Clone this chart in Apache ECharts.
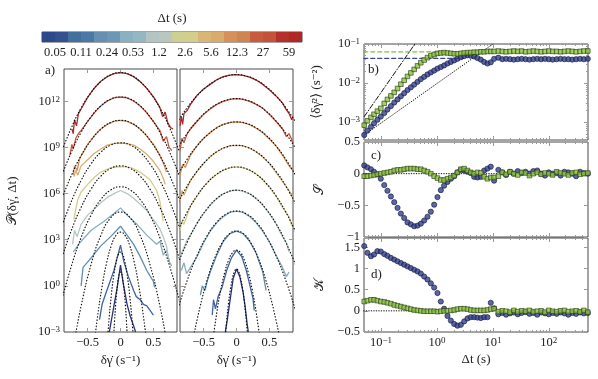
<!DOCTYPE html>
<html>
<head>
<meta charset="utf-8">
<script src="https://cdn.jsdelivr.net/npm/echarts@6/dist/echarts.min.js"></script>
<style>
  html, body { margin: 0; padding: 0; background: #fff; }
  #chart { width: 598px; height: 379px; }
</style>
</head>
<body>
<div id="chart"></div>
<script>
// ---- colour bar ----
const dtTickLabels = ["0.05", "0.11", "0.24", "0.53", "1.2", "2.6", "5.6", "12.3", "27", "59"];
const barColors = ["#2c4a8b", "#34508e", "#436f9f", "#4a78a7", "#6590b1", "#6c98b6", "#8ab1c1", "#93b7c3",
  "#b3c5c3", "#b9c7bf", "#cfcf90", "#d5cd8a", "#d9b673", "#d8ac6a", "#d6905a", "#d08450",
  "#c85a3d", "#c4523a", "#b5302b", "#b02826"];
const curveColors = ["#262f7e", "#3f62a0", "#5f8db1", "#86aec0", "#b4c6c4",
  "#d3cd88", "#d9ad6b", "#d8874f", "#c9533a", "#b1262a"];

// ---- panel a : [dgamma, log10 P], one list per dt (0.05 s ... 59 s) ----
const rawLeft = [
  [[-0.17,-3],[-0.1,-1.3],[-0.05,-0.1],[0,1.35],[0.04,0.2],[0.1,-1.2],[0.15,-2.0],[0.2,-2.6],[0.23,-3]],
  [[-0.32,-2.2],[-0.28,-1.2],[-0.2,-0.2],[-0.1,1.0],[0,2.65],[0.05,1.6],[0.12,0.6],[0.2,-0.3],[0.24,-0.7],[0.3,-0.9],[0.35,-1.2],[0.4,-1.3],[0.45,-1.6],[0.5,-1.9]],
  [[-0.6,0.0],[-0.57,1.2],[-0.45,1.8],[-0.3,2.6],[-0.15,3.2],[0,3.88],[0.1,3.3],[0.2,2.7],[0.3,1.9],[0.4,1.0],[0.47,0.5],[0.5,0.3],[0.52,-0.1]],
  [[-0.72,2.2],[-0.62,2.8],[-0.45,3.6],[-0.25,4.2],[-0.1,4.7],[0,5.07],[0.1,4.6],[0.25,4.0],[0.4,3.3],[0.55,2.7],[0.6,2.9],[0.65,2.0],[0.7,2.3],[0.75,1.5],[0.78,1.3]],
  [[-0.73,2.7],[-0.7,3.6],[-0.66,3.2],[-0.6,4.0],[-0.5,4.6],[-0.4,5.0],[-0.3,5.4],[-0.2,5.75],[-0.1,6.0],[0,6.2],[0.1,6.0],[0.2,5.7],[0.3,5.3],[0.4,4.9],[0.5,4.3],[0.6,3.7],[0.65,3.2],[0.7,2.6],[0.73,1.8]],
  [[-0.71,4.3],[-0.68,5.0],[-0.65,5.6],[-0.6,6.1],[-0.5,6.6],[-0.4,7.05],[-0.3,7.4],[-0.15,7.68],[0,7.75],[0.15,7.7],[0.3,7.4],[0.45,6.9],[0.55,6.2],[0.6,5.5],[0.62,5.0],[0.65,4.2]],
  [[-0.71,7.1],[-0.68,7.5],[-0.65,7.2],[-0.6,7.8],[-0.5,8.2],[-0.4,8.6],[-0.3,8.9],[-0.2,9.15],[-0.1,9.25],[0,9.29],[0.1,9.25],[0.2,9.15],[0.3,8.9],[0.4,8.55],[0.5,8.1],[0.6,7.5],[0.65,7.0],[0.68,6.6]],
  [[-0.72,7.2],[-0.7,7.8],[-0.66,7.5],[-0.62,8.3],[-0.55,8.8],[-0.5,9.2],[-0.4,9.75],[-0.3,10.2],[-0.2,10.5],[-0.1,10.7],[0,10.76],[0.1,10.7],[0.2,10.5],[0.3,10.2],[0.4,9.75],[0.5,9.2],[0.6,8.5],[0.66,7.9],[0.7,7.4]],
  [[-0.77,8.5],[-0.74,9.2],[-0.72,8.9],[-0.68,9.6],[-0.64,9.9],[-0.6,10.1],[-0.5,10.7],[-0.4,11.25],[-0.3,11.7],[-0.2,12.02],[-0.1,12.22],[0,12.28],[0.1,12.22],[0.2,12.02],[0.3,11.7],[0.4,11.25],[0.5,10.7],[0.6,10.1],[0.65,9.4],[0.7,9.7],[0.74,9.0],[0.78,8.8]],
  [[-0.74,10.2],[-0.72,9.9],[-0.7,10.8],[-0.67,10.4],[-0.64,11.2],[-0.6,11.5],[-0.5,12.25],[-0.4,12.85],[-0.3,13.3],[-0.2,13.6],[-0.1,13.8],[0,13.86],[0.1,13.8],[0.2,13.6],[0.3,13.28],[0.4,12.84],[0.5,12.3],[0.6,11.6],[0.64,11.0],[0.68,11.3],[0.72,10.6],[0.76,10.3],[0.8,10.2]]
];
const fitLeft = [
  [[-0.12,-4.72],[-0.105,-3.4],[-0.09,-2.26],[-0.075,-1.29],[-0.06,-0.5],[-0.045,0.11],[-0.03,0.55],[-0.015,0.81],[0,0.9],[0.015,0.81],[0.03,0.55],[0.045,0.11],[0.06,-0.5],[0.075,-1.29],[0.09,-2.26],[0.105,-3.4],[0.12,-4.72]],
  [[-0.22,-4.77],[-0.18,-2.47],[-0.14,-0.62],[-0.1,0.76],[-0.06,1.68],[-0.03,2.07],[0,2.2],[0.03,2.07],[0.06,1.68],[0.1,0.76],[0.14,-0.62],[0.18,-2.47],[0.22,-4.77]],
  [[-0.42,-4.44],[-0.35,-2.01],[-0.28,-0.03],[-0.21,1.52],[-0.14,2.62],[-0.07,3.28],[0,3.5],[0.07,3.28],[0.14,2.62],[0.21,1.52],[0.28,-0.03],[0.35,-2.01],[0.42,-4.44]],
  [[-0.72,-4.01],[-0.6,-1.32],[-0.45,1.36],[-0.3,3.27],[-0.15,4.42],[0,4.8],[0.15,4.42],[0.3,3.27],[0.45,1.36],[0.6,-1.32],[0.72,-4.01]],
  [[-0.9,-1.01],[-0.75,1.26],[-0.6,3.13],[-0.45,4.58],[-0.3,5.61],[-0.15,6.23],[0,6.44],[0.15,6.23],[0.3,5.61],[0.45,4.58],[0.6,3.13],[0.75,1.26],[0.9,-1.01]],
  [[-0.9,1.72],[-0.75,3.58],[-0.6,5.1],[-0.45,6.28],[-0.3,7.13],[-0.15,7.63],[0,7.8],[0.15,7.63],[0.3,7.13],[0.45,6.28],[0.6,5.1],[0.75,3.58],[0.9,1.72]],
  [[-0.9,3.79],[-0.75,5.47],[-0.6,6.85],[-0.45,7.92],[-0.3,8.69],[-0.15,9.15],[0,9.3],[0.15,9.15],[0.3,8.69],[0.45,7.92],[0.6,6.85],[0.75,5.47],[0.9,3.79]],
  [[-0.9,5.58],[-0.75,7.16],[-0.6,8.46],[-0.45,9.46],[-0.3,10.18],[-0.15,10.62],[0,10.76],[0.15,10.62],[0.3,10.18],[0.45,9.46],[0.6,8.46],[0.75,7.16],[0.9,5.58]],
  [[-0.9,7.1],[-0.75,8.68],[-0.6,9.98],[-0.45,10.98],[-0.3,11.7],[-0.15,12.14],[0,12.28],[0.15,12.14],[0.3,11.7],[0.45,10.98],[0.6,9.98],[0.75,8.68],[0.9,7.1]],
  [[-0.9,8.68],[-0.75,10.26],[-0.6,11.56],[-0.45,12.56],[-0.3,13.28],[-0.15,13.72],[0,13.86],[0.15,13.72],[0.3,13.28],[0.45,12.56],[0.6,11.56],[0.75,10.26],[0.9,8.68]]
];
const rawRight = [
  [[-0.17,-3],[-0.14,-2.2],[-0.1,-1.0],[-0.05,0.5],[0,1.09],[0.05,0.6],[0.1,-0.4],[0.13,-1.3],[0.16,-2.4],[0.18,-3]],
  [[-0.37,-1.9],[-0.35,-0.9],[-0.32,-1.5],[-0.28,-0.7],[-0.22,-0.1],[-0.15,1.0],[-0.08,1.8],[0,2.32],[0.08,1.9],[0.15,1.0],[0.2,0.1],[0.25,-0.8],[0.27,-1.6]],
  [[-0.55,-0.6],[-0.52,0.0],[-0.48,-0.3],[-0.44,0.4],[-0.4,0.9],[-0.3,2.0],[-0.2,2.9],[-0.1,3.4],[0,3.56],[0.1,3.4],[0.2,2.9],[0.3,2.1],[0.4,0.9],[0.45,-0.3]],
  [[-0.84,1.0],[-0.8,1.5],[-0.76,0.8],[-0.7,1.2],[-0.6,1.9],[-0.5,2.8],[-0.4,3.55],[-0.3,4.1],[-0.2,4.5],[-0.1,4.78],[0,4.86],[0.1,4.78],[0.2,4.5],[0.3,4.1],[0.4,3.55],[0.5,2.85],[0.6,2.0],[0.7,1.2],[0.76,0.6],[0.8,0.9]],
  [[-0.86,1.9],[-0.8,2.5],[-0.75,3.0],[-0.7,3.3],[-0.6,4.1],[-0.5,4.7],[-0.4,5.25],[-0.3,5.68],[-0.2,5.98],[-0.1,6.16],[0,6.22],[0.1,6.16],[0.2,5.98],[0.3,5.66],[0.4,5.25],[0.5,4.7],[0.6,4.05],[0.7,3.2],[0.76,2.8],[0.8,2.2]],
  [[-0.86,3.6],[-0.83,4.2],[-0.8,4.0],[-0.7,5.2],[-0.6,5.85],[-0.5,6.45],[-0.4,6.9],[-0.3,7.25],[-0.2,7.52],[-0.1,7.68],[0,7.73],[0.1,7.68],[0.2,7.52],[0.3,7.26],[0.4,6.9],[0.5,6.4],[0.6,5.85],[0.7,5.1],[0.8,4.5],[0.84,3.9],[0.86,4.2]],
  [[-0.86,5.5],[-0.83,6.2],[-0.8,5.9],[-0.7,6.85],[-0.6,7.45],[-0.5,7.95],[-0.4,8.4],[-0.3,8.72],[-0.2,8.95],[-0.1,9.1],[0,9.14],[0.1,9.1],[0.2,8.95],[0.3,8.7],[0.4,8.38],[0.5,7.95],[0.6,7.4],[0.7,6.8],[0.8,6.2],[0.86,5.7]],
  [[-0.86,7.2],[-0.82,7.9],[-0.78,7.7],[-0.7,8.5],[-0.6,9.1],[-0.5,9.6],[-0.4,9.95],[-0.3,10.3],[-0.2,10.5],[-0.1,10.62],[0,10.66],[0.1,10.62],[0.2,10.48],[0.3,10.25],[0.4,9.95],[0.5,9.55],[0.6,9.1],[0.7,8.5],[0.8,7.8],[0.86,7.5]],
  [[-0.86,8.8],[-0.83,9.6],[-0.8,9.3],[-0.75,9.9],[-0.7,10.2],[-0.6,10.7],[-0.5,11.15],[-0.4,11.5],[-0.3,11.8],[-0.2,12.0],[-0.1,12.13],[0,12.17],[0.1,12.12],[0.2,12.0],[0.3,11.8],[0.4,11.55],[0.5,11.15],[0.6,10.7],[0.7,10.2],[0.76,9.7],[0.8,9.9],[0.86,9.3]],
  [[-0.86,10.4],[-0.84,11.0],[-0.82,10.5],[-0.8,11.2],[-0.75,11.4],[-0.7,11.8],[-0.6,12.4],[-0.5,12.8],[-0.4,13.1],[-0.3,13.4],[-0.2,13.6],[-0.1,13.7],[0,13.73],[0.1,13.68],[0.2,13.57],[0.3,13.38],[0.4,13.1],[0.5,12.75],[0.6,12.35],[0.7,11.9],[0.75,11.5],[0.8,11.2],[0.84,10.8],[0.86,11.0]]
];
const fitRight = [
  [[-0.18,-3.77],[-0.15,-2.29],[-0.12,-1.07],[-0.09,-0.13],[-0.06,0.55],[-0.03,0.95],[0,1.09],[0.03,0.95],[0.06,0.55],[0.09,-0.13],[0.12,-1.07],[0.15,-2.29],[0.18,-3.77]],
  [[-0.38,-4.18],[-0.3,-1.73],[-0.24,-0.27],[-0.18,0.86],[-0.12,1.67],[-0.06,2.16],[0,2.32],[0.06,2.16],[0.12,1.67],[0.18,0.86],[0.24,-0.27],[0.3,-1.73],[0.38,-4.18]],
  [[-0.66,-3.41],[-0.55,-1.28],[-0.44,0.46],[-0.33,1.82],[-0.22,2.79],[-0.11,3.37],[0,3.56],[0.11,3.37],[0.22,2.79],[0.33,1.82],[0.44,0.46],[0.55,-1.28],[0.66,-3.41]],
  [[-0.9,-1.62],[-0.75,0.36],[-0.6,1.98],[-0.45,3.24],[-0.3,4.14],[-0.15,4.68],[0,4.86],[0.15,4.68],[0.3,4.14],[0.45,3.24],[0.6,1.98],[0.75,0.36],[0.9,-1.62]],
  [[-0.9,1.36],[-0.75,2.84],[-0.6,4.06],[-0.45,5.0],[-0.3,5.68],[-0.15,6.08],[0,6.22],[0.15,6.08],[0.3,5.68],[0.45,5.0],[0.6,4.06],[0.75,2.84],[0.9,1.36]],
  [[-0.9,3.52],[-0.75,4.8],[-0.6,5.86],[-0.45,6.68],[-0.3,7.26],[-0.15,7.61],[0,7.73],[0.15,7.61],[0.3,7.26],[0.45,6.68],[0.6,5.86],[0.75,4.8],[0.9,3.52]],
  [[-0.9,5.33],[-0.75,6.5],[-0.6,7.45],[-0.45,8.19],[-0.3,8.72],[-0.15,9.03],[0,9.14],[0.15,9.03],[0.3,8.72],[0.45,8.19],[0.6,7.45],[0.75,6.5],[0.9,5.33]],
  [[-0.9,7.18],[-0.75,8.24],[-0.6,9.11],[-0.45,9.79],[-0.3,10.27],[-0.15,10.56],[0,10.66],[0.15,10.56],[0.3,10.27],[0.45,9.79],[0.6,9.11],[0.75,8.24],[0.9,7.18]],
  [[-0.9,8.93],[-0.75,9.92],[-0.6,10.73],[-0.45,11.36],[-0.3,11.81],[-0.15,12.08],[0,12.17],[0.15,12.08],[0.3,11.81],[0.45,11.36],[0.6,10.73],[0.75,9.92],[0.9,8.93]],
  [[-0.9,10.65],[-0.75,11.59],[-0.6,12.36],[-0.45,12.96],[-0.3,13.39],[-0.15,13.64],[0,13.73],[0.15,13.64],[0.3,13.39],[0.45,12.96],[0.6,12.36],[0.75,11.59],[0.9,10.65]]
];

// ---- panels b, c, d : lag times (s) and moments ----
const dt = [0.050,0.057,0.066,0.075,0.086,0.099,0.114,0.130,0.150,0.172,0.197,0.226,0.259,0.297,0.341,0.391,
  0.448,0.514,0.590,0.676,0.776,0.890,1.02,1.17,1.34,1.54,1.77,2.03,2.32,2.67,3.06,3.51,4.02,4.61,5.29,6.07,
  6.96,7.98,9.15,10.5,
  12.5,14.7,17.2,20.2,23.7,27.8,32.6,38.3,45,52.8,62,72.7,85.4,100,117,138,162,190,223,262,307,361,423,497];
// log10 <dgamma^2>
const msdBlue = [-3.33,-3.22,-3.12,-3.03,-2.94,-2.86,-2.77,-2.68,-2.59,-2.50,-2.42,-2.34,-2.26,-2.18,-2.11,-2.04,
  -1.97,-1.90,-1.84,-1.78,-1.73,-1.68,-1.63,-1.59,-1.55,-1.50,-1.46,-1.42,-1.38,-1.34,-1.31,-1.29,-1.30,-1.32,-1.36,-1.40,
  -1.46,-1.50,-1.47,-1.38,
  -1.35,-1.39,-1.38,-1.39,-1.40,-1.39,-1.38,-1.39,-1.40,-1.39,-1.38,-1.39,-1.38,-1.39,-1.40,-1.39,-1.38,-1.39,-1.39,-1.40,-1.39,-1.38,-1.39,-1.38];
const msdGreen = [-3.08,-2.97,-2.88,-2.80,-2.72,-2.65,-2.52,-2.42,-2.33,-2.24,-2.14,-2.03,-1.93,-1.83,-1.74,-1.65,
  -1.56,-1.48,-1.41,-1.35,-1.30,-1.27,-1.24,-1.23,-1.22,-1.23,-1.24,-1.25,-1.25,-1.24,-1.23,-1.22,-1.22,-1.21,-1.21,-1.20,
  -1.20,-1.19,-1.19,-1.19,
  -1.18,-1.19,-1.20,-1.19,-1.18,-1.19,-1.18,-1.20,-1.19,-1.18,-1.19,-1.20,-1.19,-1.18,-1.19,-1.19,-1.20,-1.19,-1.18,-1.19,-1.20,-1.19,-1.18,-1.18];
const skewBlue = [0.13,0.10,0.07,0.03,-0.01,-0.08,-0.18,-0.27,-0.36,-0.45,-0.54,-0.63,-0.70,-0.77,-0.80,-0.83,
  -0.82,-0.79,-0.74,-0.68,-0.60,-0.49,-0.37,-0.26,-0.19,-0.13,-0.08,-0.04,0.02,0.06,0.05,0.03,0.01,-0.05,-0.06,-0.05,
  0.05,0.08,0.11,-0.11,
  0.06,0.02,-0.02,0.03,0.00,0.04,0.01,0.03,0.00,0.04,0.05,0.00,-0.03,0.02,0.00,0.01,-0.03,0.03,0.02,0.00,-0.04,0.03,0.01,0.00];
const skewGreen = [-0.04,-0.04,-0.03,-0.02,-0.01,0.00,0.01,0.02,0.03,0.05,0.06,0.06,0.07,0.08,0.08,0.08,
  0.07,0.07,0.05,0.03,0.00,-0.04,-0.07,-0.10,-0.10,-0.08,-0.06,-0.03,0.02,0.07,0.08,0.05,0.02,0.00,0.02,0.01,
  -0.05,-0.08,-0.06,-0.06,
  -0.04,0.02,-0.01,0.03,0.00,-0.02,0.02,0.01,-0.03,0.00,0.02,-0.01,0.01,0.00,-0.02,0.03,0.01,0.00,-0.02,0.01,0.02,-0.01,0.00,0.01];
const kurtBlue = [1.53,1.37,1.29,1.33,1.41,1.40,1.34,1.30,1.25,1.21,1.17,1.13,1.09,1.05,1.01,0.97,
  0.93,0.88,0.81,0.74,0.65,0.55,0.42,0.22,0.05,-0.12,-0.23,-0.31,-0.35,-0.33,-0.25,-0.18,-0.15,-0.15,-0.16,-0.17,
  -0.15,-0.15,0.19,0.06,
  -0.08,-0.05,-0.09,-0.06,-0.04,-0.08,-0.05,-0.03,-0.07,-0.05,-0.09,-0.04,-0.06,-0.08,-0.05,-0.07,-0.04,-0.06,-0.09,-0.05,-0.07,-0.04,-0.06,-0.05];
const kurtGreen = [0.22,0.24,0.26,0.26,0.24,0.22,0.21,0.19,0.17,0.14,0.12,0.10,0.08,0.06,0.04,0.02,
  0.01,0.00,-0.01,-0.01,-0.01,-0.01,-0.02,-0.01,0.00,0.00,0.01,0.02,0.04,0.05,0.05,0.04,0.02,0.01,0.01,0.01,
  0.01,0.02,0.04,0.05,
  -0.02,0.00,-0.01,-0.03,0.01,-0.02,0.00,-0.01,0.01,-0.02,-0.01,0.00,-0.03,0.01,-0.01,-0.02,0.00,0.01,-0.02,-0.01,0.00,-0.02,0.01,-0.03];
// guide lines in b: [dt, log10 value]
const plateauGreen = [[0.049, -1.2], [1.5, -1.2]];
const plateauBlue = [[0.049, -1.37], [3.0, -1.37]];
const ballistic = [[0.05, -2.86], [0.45, -0.9]];
const diffusive = [[0.05, -3.33], [10, -1.0]];
const zeroC = [[0.049, 0], [12, 0]];
const zeroD = [[0.049, 0], [1.2, 0]];

const FONT = 'Liberation Serif, DejaVu Serif, serif';
const TICK = '#9a9a9a';
const INK = '#222';
const RICH = {
  b: { fontFamily: FONT, fontSize: 12.5, color: INK },
  s: { fontFamily: FONT, fontSize: 9, color: INK, verticalAlign: 'top' }
};
const minus = v => (v < 0 ? '\u2212' + (-v) : String(v));
const expFmt = v => '{b|10}{s|' + minus(v) + '}';

function axis(grid, pos, min, max, ticks, len, lab) {
  const a = {
    type: 'value', gridIndex: grid, position: pos, min: min, max: max,
    axisLine: { show: false, onZero: false }, splitLine: { show: false },
    axisTick: { show: true, inside: true, length: len, customValues: ticks, lineStyle: { color: TICK, width: 1 } },
    axisLabel: { show: false }
  };
  if (lab) {
    a.axisLabel = { show: true, customValues: lab.values, formatter: lab.fmt, margin: lab.margin || 4,
      fontFamily: FONT, fontSize: 12.5, color: INK, rich: RICH };
    if (lab.name) {
      a.name = lab.name; a.nameLocation = 'middle'; a.nameGap = lab.gap;
      a.nameTextStyle = { fontFamily: FONT, fontSize: 13, color: INK };
    }
  }
  return a;
}

// log minor ticks
function logTicks(lo, hi) {
  const out = [];
  for (let n = -5; n <= 3; n++) for (let k = 2; k <= 9; k++) {
    const v = Math.log10(k) + n;
    if (v > lo && v < hi) out.push(v);
  }
  return out;
}

const grids = [
  { left: 64, top: 69, width: 113, height: 263 },
  { left: 180, top: 69, width: 113, height: 263 },
  { left: 364, top: 44, width: 224, height: 96 },
  { left: 364, top: 142, width: 224, height: 95 },
  { left: 364, top: 238, width: 224, height: 94 },
  { left: 42, top: 32, width: 260, height: 10 }
].map(g => Object.assign({ show: true, borderColor: '#4a4a4a', borderWidth: 1, backgroundColor: 'transparent' }, g));

const xAxes = [], yAxes = [];
const add = (list, a) => { list.push(a); return list.length - 1; };

// panel a
const dgTicks = [-0.5, 0, 0.5];
const pTicks = [-3, 0, 3, 6, 9, 12];
const aX = [], aY = [];
for (let g = 0; g < 2; g++) {
  aX.push(add(xAxes, axis(g, 'bottom', -0.86, 0.86, dgTicks, 4,
    { values: dgTicks, fmt: minus, name: 'δγ̇ (s⁻¹)', gap: 19 })));
  add(xAxes, axis(g, 'top', -0.86, 0.86, dgTicks, 4));
  aY.push(add(yAxes, axis(g, 'left', -3, 14.1, pTicks, 4,
    g === 0 ? { values: pTicks, fmt: expFmt, name: '𝒫(δγ̇, Δt)', gap: 45 } : null)));
  add(yAxes, axis(g, 'right', -3, 14.1, pTicks, 4));
}

// panels b, c, d share the log-time x axis
const tMin = -1.305, tMax = 2.70;
const tMajor = [-1, 0, 1, 2];
const tMinor = logTicks(tMin, tMax);
const rX = [], rY = [];
for (let g = 2; g <= 4; g++) {
  rX.push(add(xAxes, axis(g, 'bottom', tMin, tMax, tMajor, 4,
    g === 4 ? { values: tMajor, fmt: expFmt, name: 'Δt (s)', gap: 21 } : null)));
  add(xAxes, axis(g, 'bottom', tMin, tMax, tMinor, 2));
  add(xAxes, axis(g, 'top', tMin, tMax, tMajor, 4));
  add(xAxes, axis(g, 'top', tMin, tMax, tMinor, 2));
}
// b
rY.push(add(yAxes, axis(2, 'left', -3.46, -1, [-3, -2, -1], 4,
  { values: [-3, -2, -1], fmt: expFmt, name: '⟨δγ̇²⟩ (s⁻²)', gap: 41 })));
add(yAxes, axis(2, 'left', -3.46, -1, logTicks(-3.46, -1), 2));
add(yAxes, axis(2, 'right', -3.46, -1, [-3, -2, -1], 4));
add(yAxes, axis(2, 'right', -3.46, -1, logTicks(-3.46, -1), 2));
// c
const sTicks = [-1, -0.5, 0, 0.5];
rY.push(add(yAxes, axis(3, 'left', -1, 0.5, sTicks, 4,
  { values: sTicks, fmt: minus, name: '𝒮', gap: 38 })));
add(yAxes, axis(3, 'right', -1, 0.5, sTicks, 4));
// d
const kTicks = [-0.5, 0, 0.5, 1, 1.5];
rY.push(add(yAxes, axis(4, 'left', -0.5, 1.72, kTicks, 4,
  { values: kTicks, fmt: minus, name: '𝒦', gap: 38 })));
add(yAxes, axis(4, 'right', -0.5, 1.72, kTicks, 4));

// colour bar axes
const cbCat = add(xAxes, { type: 'category', gridIndex: 5, data: barColors.map((c, i) => i), show: false });
add(xAxes, {
  type: 'value', gridIndex: 5, position: 'bottom', min: 0, max: 20,
  axisLine: { show: false, onZero: false }, splitLine: { show: false }, axisTick: { show: false },
  axisLabel: { show: true, customValues: [1, 3, 5, 7, 9, 11, 13, 15, 17, 19], margin: 4,
    formatter: v => dtTickLabels[(v - 1) / 2], fontFamily: FONT, fontSize: 12.5, color: INK }
});
const cbY = add(yAxes, { type: 'value', gridIndex: 5, min: 0, max: 1, show: false });

const series = [];
// colour bar
series.push({
  type: 'bar', xAxisIndex: cbCat, yAxisIndex: cbY, barWidth: '100%', barCategoryGap: '0%', silent: true,
  data: barColors.map(c => ({ value: 1, itemStyle: { color: c } }))
});
// panel a
[[rawLeft, fitLeft], [rawRight, fitRight]].forEach(([raw, fit], g) => {
  raw.forEach((pts, i) => series.push({
    type: 'line', xAxisIndex: aX[g], yAxisIndex: aY[g], data: pts, symbol: 'none', silent: true,
    lineStyle: { color: curveColors[i], width: 1.3 }, z: 2
  }));
  fit.forEach(pts => series.push({
    type: 'line', xAxisIndex: aX[g], yAxisIndex: aY[g], data: pts, symbol: 'none', smooth: true, silent: true,
    lineStyle: { color: '#111', width: 1.2, type: [0.5, 2.6], cap: 'round' }, z: 3
  }));
});
// panel b..d
const toLog = pts => pts.map(p => [Math.log10(p[0]), p[1]]);
const guide = (g, pts, color, type, width) => series.push({
  type: 'line', xAxisIndex: rX[g], yAxisIndex: rY[g], data: toLog(pts), symbol: 'none', silent: true,
  lineStyle: { color: color, width: width || 1.1, type: type, cap: 'round' }, z: 2
});
guide(0, plateauGreen, '#7dc23a', [4, 3], 1.3);
guide(0, plateauBlue, '#3a46a6', [4, 3], 1.3);
guide(0, ballistic, '#111', [5, 2, 1, 2], 1);
guide(0, diffusive, '#111', [0.5, 2], 1);
guide(1, zeroC, '#111', [0.5, 2], 1);
guide(2, zeroD, '#111', [0.5, 2], 1);

const blueStyle = { color: '#33408e', borderColor: '#141a3c', borderWidth: 0.8 };
const greenStyle = { color: '#8cc63c', borderColor: '#2c3a18', borderWidth: 0.8 };
[[msdBlue, msdGreen], [skewBlue, skewGreen], [kurtBlue, kurtGreen]].forEach(([b, gr], g) => {
  series.push({
    type: 'scatter', xAxisIndex: rX[g], yAxisIndex: rY[g], symbol: 'circle', symbolSize: 5.2,
    data: dt.map((t, i) => [Math.log10(t), b[i]]), itemStyle: blueStyle, z: 4, silent: true
  });
  series.push({
    type: 'scatter', xAxisIndex: rX[g], yAxisIndex: rY[g], symbol: 'rect', symbolSize: 4.6,
    data: dt.map((t, i) => [Math.log10(t), gr[i]]), itemStyle: greenStyle, z: 5, silent: true
  });
});

const lbl = (text, x, y, size, align) => ({
  text: text, left: x, top: y, padding: 0, textAlign: align || 'left',
  textStyle: { fontFamily: FONT, fontSize: size || 13, fontWeight: 'normal', color: INK }
});

const chart = echarts.init(document.getElementById('chart'));
chart.setOption({
  animation: false,
  backgroundColor: '#fff',
  title: [
    lbl('Δt (s)', 172, 12, 13, 'center'),
    lbl('a)', 45, 64),
    lbl('b)', 368, 63),
    lbl('c)', 371, 149),
    lbl('d)', 371, 268)
  ],
  grid: grids,
  xAxis: xAxes,
  yAxis: yAxes,
  series: series
});
</script>
</body>
</html>
